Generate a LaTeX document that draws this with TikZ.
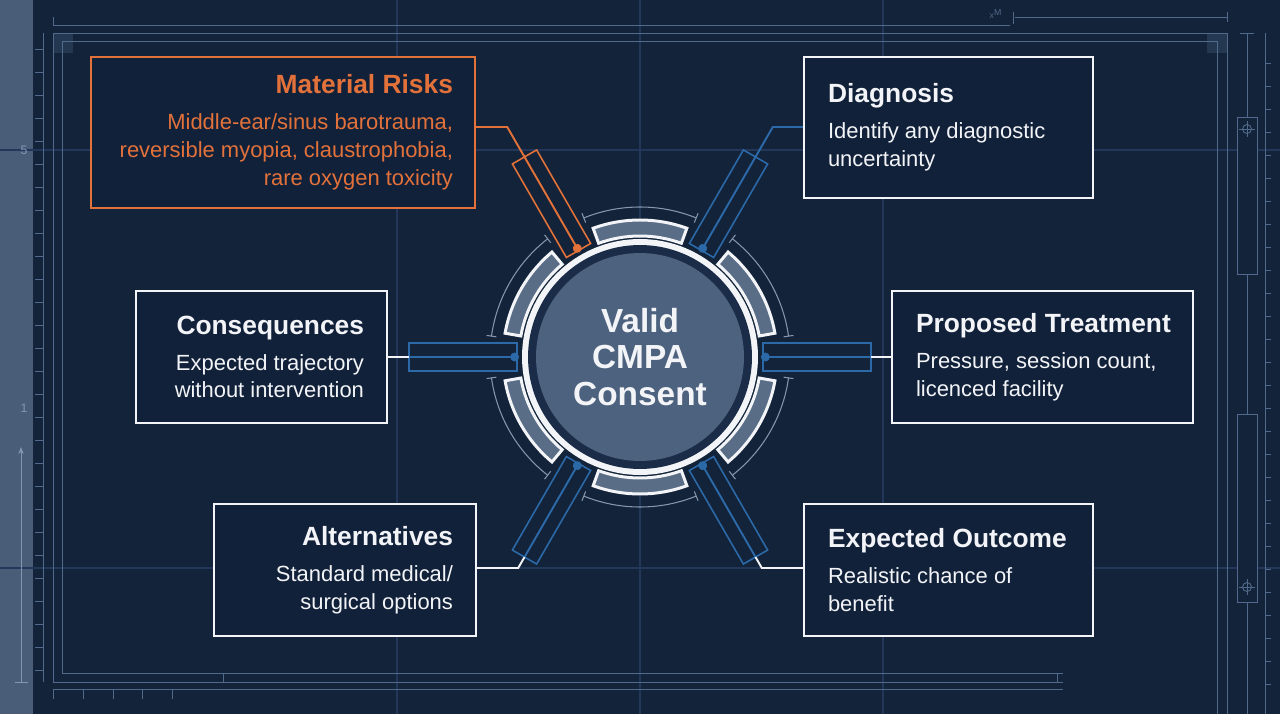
\documentclass[tikz,border=0pt]{standalone}
\usepackage{fontspec}
\setmainfont{Liberation Sans}
\usepackage{tikz}
\usetikzlibrary{arrows.meta,calc}
\definecolor{bgnavy}{HTML}{132339}
\definecolor{stripslate}{HTML}{4A5D78}
\definecolor{gridline}{HTML}{22375A}
\definecolor{frameline}{HTML}{51698A}
\definecolor{rulerlabel}{HTML}{8397B0}
\definecolor{cardfill}{HTML}{12213A}
\definecolor{riskorange}{HTML}{E2713A}
\definecolor{conblue}{HTML}{2C69A8}
\definecolor{coreslate}{HTML}{4D627E}
\definecolor{ringdark}{HTML}{1A2C47}
\definecolor{segslate}{HTML}{5A6D87}
\definecolor{textwhite}{HTML}{F2F4F7}
\tikzset{
  card/.style={draw=#1, line width=1.4pt, fill=cardfill, inner ysep=0pt,
               text=textwhite, font=\fontsize{12.5}{15.9}\selectfont},
  rulebl/.style={draw=frameline, line width=0.5pt},
  faint/.style={draw=gridline, line width=0.6pt},
  tube/.style={draw=#1, line width=0.9pt},
  lead/.style={draw=#1, line width=1.1pt},
  dotlead/.style={draw=#1, line width=1.1pt, {Circle[length=5pt]}-},
  seg/.style={draw=textwhite, line width=1.7pt, fill=segslate},
}
\newcommand{\cardhead}[1]{\mbox{\fontsize{15}{18}\selectfont\bfseries #1}\\[4.5pt]}

\begin{document}
\begin{tikzpicture}[x=0.02cm, y=0.02cm]
\useasboundingbox (0,0) rectangle (1280,714);
\fill[bgnavy] (0,0) rectangle (1280,714);
\fill[stripslate] (0,0) rectangle (33,714);

% ---------------- blueprint frame ----------------------------------------
\foreach \y in {564,146} \draw[faint] (0,\y) -- (1280,\y);
\foreach \x in {397,640,883} \draw[faint] (\x,0) -- (\x,714);
\draw[rulebl] (1227,0) -- (1227,681) -- (53,681) -- (53,32) -- (1063,32);
\draw[rulebl] (1217,0) -- (1217,673) -- (62,673) -- (62,41) -- (1063,41);
\fill[frameline, opacity=.3] (53,661) rectangle (73,681);
\fill[frameline, opacity=.3] (1207,661) rectangle (1227,681);
\draw[rulebl] (53,689) -- (1010,689);
\draw[rulebl] (53,689) -- (53,697);
\draw[rulebl] (1013,690) -- (1013,702);
\draw[rulebl] (1015,697) -- (1227,697);
\draw[rulebl] (1227,692) -- (1227,702);
\node[font=\tiny, text=frameline] (xm) at (996,700) {x\textsuperscript{M}};
\draw[rulebl] (43,32) -- (43,681);
\foreach \y in {44,67,...,680} \draw[rulebl] (35,\y) -- (43,\y);
\node[font=\scriptsize, text=rulerlabel] (lab5) at (24,564) {5};
\node[font=\scriptsize, text=rulerlabel] (lab1) at (24,306) {1};
\draw[rulebl, draw=rulerlabel] (15,32) -- (28,32);
\draw[rulebl, draw=rulerlabel, -{Stealth[length=4pt]}] (21,32) -- (21,267);
\draw[rulebl] (53,25) -- (1063,25);
\foreach \x in {53,83,113,142,172} \draw[rulebl] (\x,25) -- (\x,15);
\draw[rulebl] (223,41) -- (223,32);
\draw[rulebl] (1057,41) -- (1057,32);
\draw[rulebl] (1247,681) -- (1247,0);
\draw[rulebl] (1240,681) -- (1254,681);
\draw[rulebl] (1265,0) -- (1265,681);
\foreach \y in {30,53,...,670} \draw[rulebl] (1265,\y) -- (1271,\y);
\draw[rulebl, fill=bgnavy] (1237,440) rectangle (1257,597);
\draw[rulebl, fill=bgnavy] (1237,112) rectangle (1257,300);
\foreach \y in {585,127}{
  \draw[rulebl] (1247,\y) circle (4.5);
  \draw[rulebl] (1239,\y) -- (1255,\y) (1247,\y-8) -- (1247,\y+8);}

% ---------------- the hub -------------------------------------------------
\begin{scope}[shift={(640,357)}]
  \foreach \a in {0,60,...,300}{
    \draw[seg] (\a+10:121) arc (\a+10:\a+50:2.42cm) -- (\a+50:137)
               arc (\a+50:\a+10:2.74cm) -- cycle;
    \draw[faint, draw=frameline!70] (\a+8:150) arc (\a+8:\a+52:3cm);
    \draw[faint, draw=frameline!70] (\a+8:145) -- (\a+8:155);
    \draw[faint, draw=frameline!70] (\a+52:145) -- (\a+52:155);
  }
  \fill[textwhite] (0,0) circle (2.36cm);
  \fill[ringdark] (0,0) circle (2.24cm);
  \fill[coreslate] (0,0) circle (2.08cm);
  \node[text=textwhite, font=\fontsize{19}{20.7}\selectfont\bfseries,
        align=center] (core) at (0,0) {Valid\\CMPA\\Consent};
  \foreach \a/\c in {0/conblue,60/conblue,120/riskorange,180/conblue,
                     240/conblue,300/conblue}{
    \draw[tube=\c, rotate=\a] (123,-14) rectangle (231,14);
    \coordinate (d\a) at (\a:121);
    \coordinate (t\a) at (\a:231);
  }
  \coordinate (k60) at (60:265.6);
  \coordinate (k120) at (120:265.6);
  \coordinate (k240) at (240:243.6);
  \coordinate (k300) at (300:243.6);
\end{scope}

% ---------------- the six cards ------------------------------------------
\node[card=riskorange, text=riskorange, text width=6.8cm, inner xsep=0.44cm,
      minimum height=3.02cm, align=flush right] (risk) at (283,581.5)
  {\cardhead{Material Risks}Middle-ear/sinus barotrauma,\\
   reversible myopia, claustrophobia,\\rare oxygen toxicity};
\node[card=textwhite, text width=4.82cm, inner xsep=0.48cm,
      minimum height=2.82cm, align=flush left] (diag) at (948.5,586.5)
  {\cardhead{Diagnosis}Identify any diagnostic\\uncertainty};
\node[card=textwhite, text width=4.1cm, inner xsep=0.46cm,
      minimum height=2.64cm, align=flush right] (cons) at (261.5,357)
  {\cardhead{Consequences}Expected trajectory\\without intervention};
\node[card=textwhite, text width=5.06cm, inner xsep=0.48cm,
      minimum height=2.64cm, align=flush left] (treat) at (1042.5,357)
  {\cardhead{Proposed Treatment}Pressure, session count,\\licenced facility};
\node[card=textwhite, text width=4.32cm, inner xsep=0.46cm,
      minimum height=2.64cm, align=flush right] (alt) at (345,144)
  {\cardhead{Alternatives}Standard medical/\\surgical options};
\node[card=textwhite, text width=4.82cm, inner xsep=0.48cm,
      minimum height=2.64cm, align=flush left] (outc) at (948.5,144)
  {\cardhead{Expected Outcome}Realistic chance of\\benefit};

% ---------------- leads ---------------------------------------------------
\draw[dotlead=riskorange] (d120) -- (k120) -- (risk.east |- k120);
\draw[dotlead=conblue] (d60) -- (k60) -- (diag.west |- k60);
\draw[dotlead=conblue] (d240) -- (t240);
\draw[lead=textwhite] (t240) -- (k240) -- (alt.east |- k240);
\draw[dotlead=conblue] (d300) -- (t300);
\draw[lead=textwhite] (t300) -- (k300) -- (outc.west |- k300);
\draw[dotlead=conblue] (d180) -- (t180);
\draw[lead=textwhite] (t180) -- (cons.east);
\draw[dotlead=conblue] (d0) -- (t0);
\draw[lead=textwhite] (t0) -- (treat.west);
\end{tikzpicture}
\end{document}
